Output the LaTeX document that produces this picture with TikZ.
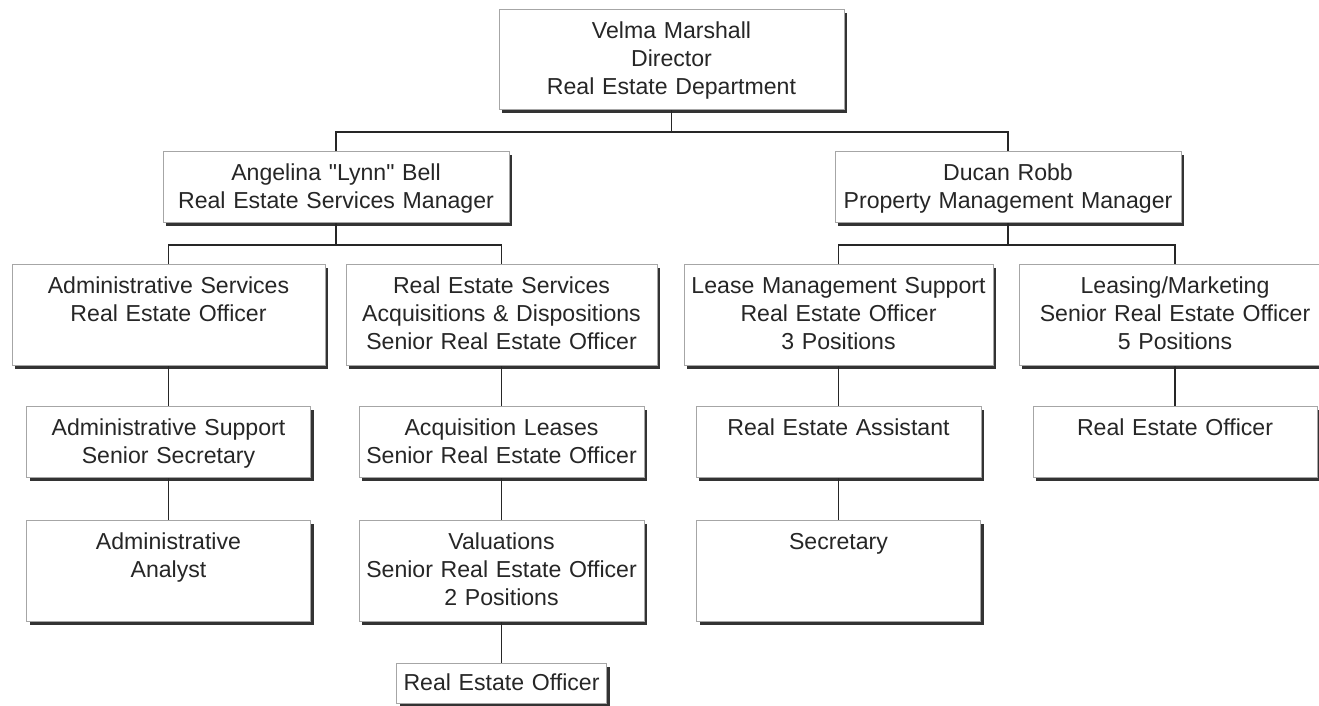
\documentclass[tikz,border=0pt]{standalone}
\usepackage{fontspec}
\setmainfont{Liberation Sans}[Ligatures=TeXOff]
\usepackage{tikz}
\usetikzlibrary{shadows}
\newcommand{\orgfont}{\fontsize{23.1}{28}\selectfont}
\tikzset{
	orgbox/.style ={rectangle, draw=black!35, line width=1pt, fill=white, inner sep=0pt, anchor=north, align=center, text height=29pt, font=\orgfont, text=black!85, drop shadow={shadow xshift=3pt, shadow yshift=-3pt, opacity=1, fill=black!80}},
	tallbox/.style ={orgbox, text depth=72pt},
	shortbox/.style={orgbox, text depth=42pt},
	link/.style    ={line width=1.6pt, black!85},
}

\begin{document}
\begin{tikzpicture}[x=1pt, y=-1pt]
	\useasboundingbox (0,0) rectangle (1319,705);
	% director and managers
	\node[orgbox, text width=345pt, text depth=71pt] (dir) at (671.5,9) {Velma Marshall\\Director\\Real Estate Department};
	\node[shortbox, text width=346pt] (rsm) at (336,151) {Angelina "Lynn" Bell\\Real Estate Services Manager};
	\node[shortbox, text width=346pt] (pmm) at (1008,151) {Ducan Robb\\Property Management Manager};
	% sections
	\node[tallbox, text width=313pt] (adm) at (168.5,264) {Administrative Services\\Real Estate Officer};
	\node[tallbox, text width=311pt] (acq) at (501.5,264) {Real Estate Services\\Acquisitions \& Dispositions\\Senior Real Estate Officer};
	\node[tallbox, text width=309pt] (lms) at (838.5,264) {Lease Management Support\\Real Estate Officer\\3 Positions};
	\node[tallbox, text width=312pt] (lsm) at (1175,264) {Leasing/Marketing\\Senior Real Estate Officer\\5 Positions};
	% staff
	\node[shortbox, text width=284pt] (sup) at (168.5,406) {Administrative Support\\Senior Secretary};
	\node[tallbox, text width=284pt] (anl) at (168.5,520) {Administrative\\Analyst};
	\node[shortbox, text width=285pt] (acl) at (501.5,406) {Acquisition Leases\\Senior Real Estate Officer};
	\node[tallbox, text width=285pt] (val) at (501.5,520) {Valuations\\Senior Real Estate Officer\\2 Positions};
	\node[orgbox, text width=210pt, text height=27pt, text depth=13pt] (reo) at (501.5,663) {Real Estate Officer};
	\node[shortbox, text width=285pt] (rea) at (838.5,406) {Real Estate Assistant};
	\node[tallbox, text width=284pt] (sec) at (838.5,520) {Secretary};
	\node[shortbox, text width=284pt] (lso) at (1175,406) {Real Estate Officer};
	% connectors
	\coordinate (top) at (0,132);
	\coordinate (bus) at (0,245);
	\draw[link] (dir.south) -- (dir.south |- top);
	\draw[link] (rsm.north) -- (rsm.north |- top) -- (pmm.north |- top) -- (pmm.north);
	\draw[link] (adm.north) |- (rsm.south |- bus) -- (rsm.south);
	\draw[link] (rsm.south |- bus) -| (acq.north);
	\draw[link] (lms.north) |- (pmm.south |- bus) -- (pmm.south);
	\draw[link] (pmm.south |- bus) -| (lsm.north);
	\draw[link] (adm.south) -- (sup.north);
	\draw[link] (sup.south) -- (anl.north);
	\draw[link] (acq.south) -- (acl.north);
	\draw[link] (acl.south) -- (val.north);
	\draw[link] (val.south) -- (reo.north);
	\draw[link] (lms.south) -- (rea.north);
	\draw[link] (rea.south) -- (sec.north);
	\draw[link] (lsm.south) -- (lso.north);
\end{tikzpicture}
\end{document}
